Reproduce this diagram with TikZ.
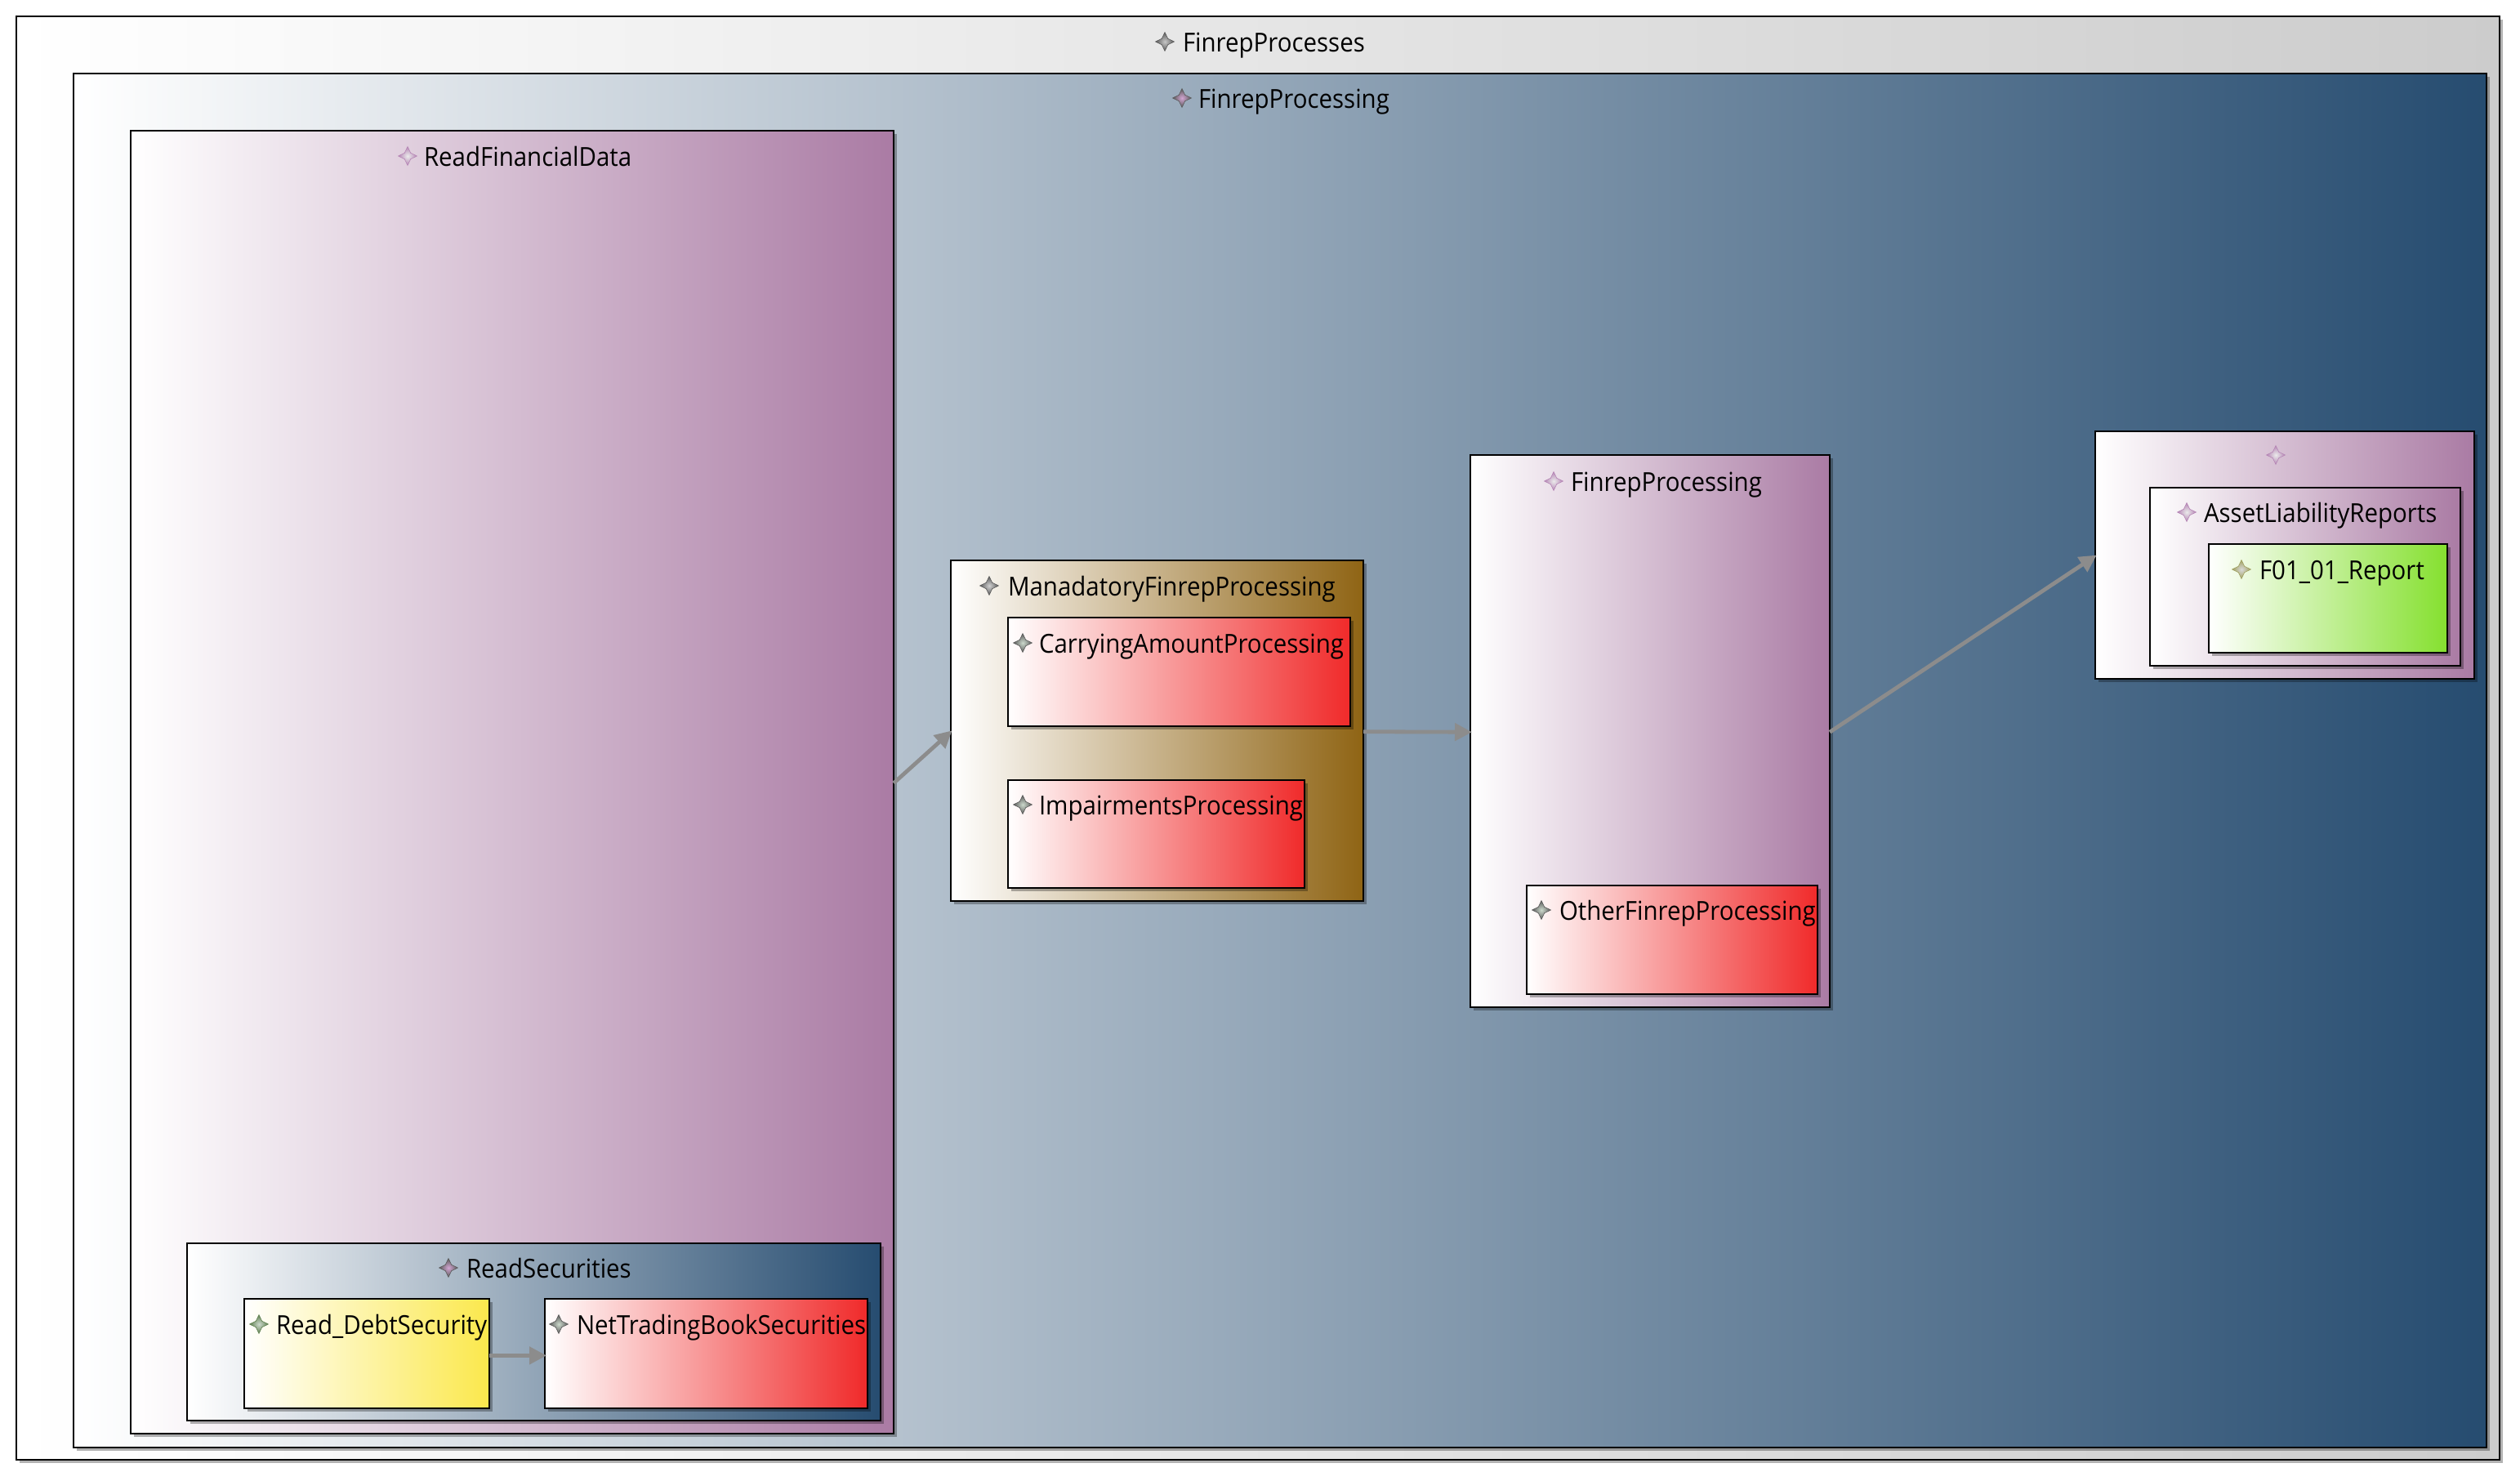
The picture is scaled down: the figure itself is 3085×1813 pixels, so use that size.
\documentclass[tikz,border=0pt]{standalone}
\usepackage{fontspec}
\setmainfont[FakeStretch=0.92]{Open Sans}
\usetikzlibrary{arrows.meta,shadings,shadows,shapes.geometric}
\definecolor{plumend}{HTML}{AA7BA4}
\definecolor{navyend}{HTML}{264C70}
\definecolor{brownend}{HTML}{8F6414}
\definecolor{redend}{HTML}{F02A2A}
\definecolor{yellowend}{HTML}{FBE84C}
\definecolor{greenend}{HTML}{85E02F}
\definecolor{greyend}{HTML}{CCCCCC}
\definecolor{flowgrey}{HTML}{8C8C8C}
\definecolor{icongrey}{HTML}{5A5A5A}
\definecolor{iconplum}{HTML}{B585B5}
\definecolor{iconmoss}{HTML}{5F8050}
\definecolor{iconolive}{HTML}{A0A060}
\tikzset{
	procbox/.style={draw=black, line width=0.9pt, inner sep=0pt, outer sep=0pt, left color=white,
		drop shadow={shadow xshift=2pt, shadow yshift=-2pt, opacity=0.3, fill=black}},
	proctext/.style={anchor=base west, inner sep=0pt, outer sep=0pt, font=\fontsize{16}{16}\selectfont},
	procicon/.style={star, star points=4, star point ratio=2.2, minimum size=11.5pt, inner sep=0pt, line width=0.3pt},
	flow/.style={draw=flowgrey, line width=2.4pt, shorten >=-1pt, -{Triangle[length=10.5pt, width=10.5pt]}}
}
\def\procbox[#1](#2)(#3,#4,#5,#6){\node[procbox, right color=#1, minimum width={(#5-#3)*0.5pt}, minimum height={(#6-#4)*0.5pt}] (#2) at ({(#3+#5)/2}, {-(#4+#6)/2}) {};}
\def\procstar[#1/#2](#3)(#4,#5){\node[procicon, draw=#1, inner color=#2, outer color=#1] (#3) at (#4, -#5) {};}
\def\proclabel[#1/#2](#3)(#4,#5,#6)#7{\procstar[#1/#2](#3Icon)(#4,#5)
	\node[proctext] (#3Text) at (#6, -#5-12.5) {#7};}

\begin{document}
\begin{tikzpicture}[x=0.5pt, y=0.5pt]
		\useasboundingbox (0, 0) rectangle (3085, -1813);
		
		%%%%% BOXES %%%%%
		\procbox[greyend](finrepProcesses)(20,20,3060,1787);
		\procbox[navyend](finrepProcessing)(90,90,3044,1772);
		
		\procbox[plumend](readFinancialData)(160,160,1094,1755);
		\procbox[navyend](readSecurities)(229,1522,1078,1739);
		\procbox[yellowend](readDebtSecurity)(299,1590,599,1724);
		\procbox[redend](netTradingBook)(667,1590,1062,1724);
		
		\procbox[brownend](mandatoryProcessing)(1164,686,1669,1103);
		\procbox[redend](carryingAmount)(1234,756,1653,889);
		\procbox[redend](impairments)(1234,955,1597,1087);
		
		\procbox[plumend](finrepInner)(1800,557,2240,1233);
		\procbox[redend](otherFinrep)(1869,1084,2225,1217);
		
		\procbox[plumend](unnamedReports)(2565,528,3029,831);
		\procbox[plumend](assetLiability)(2632,597,3012,815);
		\procbox[greenend](reportFzeroOne)(2704,666,2996,799);
		
		%%%%% LABELS %%%%%
		\proclabel[icongrey/black!22](finrepProcesses)(1426,51,1448){FinrepProcesses}
		\proclabel[icongrey/violet!35](finrepProcessing)(1447,120,1467){FinrepProcessing}
		\proclabel[iconplum/black!8](readFinancialData)(499,191,519){ReadFinancialData}
		\proclabel[icongrey/violet!35](readSecurities)(549,1552,571){ReadSecurities}
		\proclabel[iconmoss/green!25!black!20](readDebtSecurity)(317,1621,338){Read\_DebtSecurity}
		\proclabel[icongrey/green!25!black!20](netTradingBook)(684,1621,706){NetTradingBookSecurities}
		\proclabel[icongrey/black!18](mandatoryProcessing)(1211,717,1234){ManadatoryFinrepProcessing}
		\proclabel[icongrey/green!25!black!20](carryingAmount)(1252,787,1272){CarryingAmountProcessing}
		\proclabel[icongrey/green!25!black!20](impairments)(1252,985,1272){ImpairmentsProcessing}
		\proclabel[iconplum/black!8](finrepInner)(1902,589,1923){FinrepProcessing}
		\proclabel[icongrey/green!25!black!20](otherFinrep)(1887,1114,1909){OtherFinrepProcessing}
		\procstar[iconplum/black!8](unnamedReportsIcon)(2786,557)
		\proclabel[iconplum/black!8](assetLiability)(2677,627,2698){AssetLiabilityReports}
		\proclabel[iconolive/black!15](reportFzeroOne)(2744,697,2766){F01\_01\_Report}
		
		%%%%% ARROWS %%%%%
		\draw[flow] ([yshift=-0.6pt]readFinancialData.east) -- ([yshift=-0.6pt]mandatoryProcessing.west);
		\draw[flow] ([yshift=-0.6pt]mandatoryProcessing.east) -- ([yshift=-0.6pt]finrepInner.west);
		\draw[flow] ([yshift=-0.6pt]finrepInner.east) -- ([yshift=-0.6pt]unnamedReports.west);
		\draw[flow] ([yshift=-1.2pt]readDebtSecurity.east) -- ([yshift=-1.2pt]netTradingBook.west);
	\end{tikzpicture}
\end{document}
